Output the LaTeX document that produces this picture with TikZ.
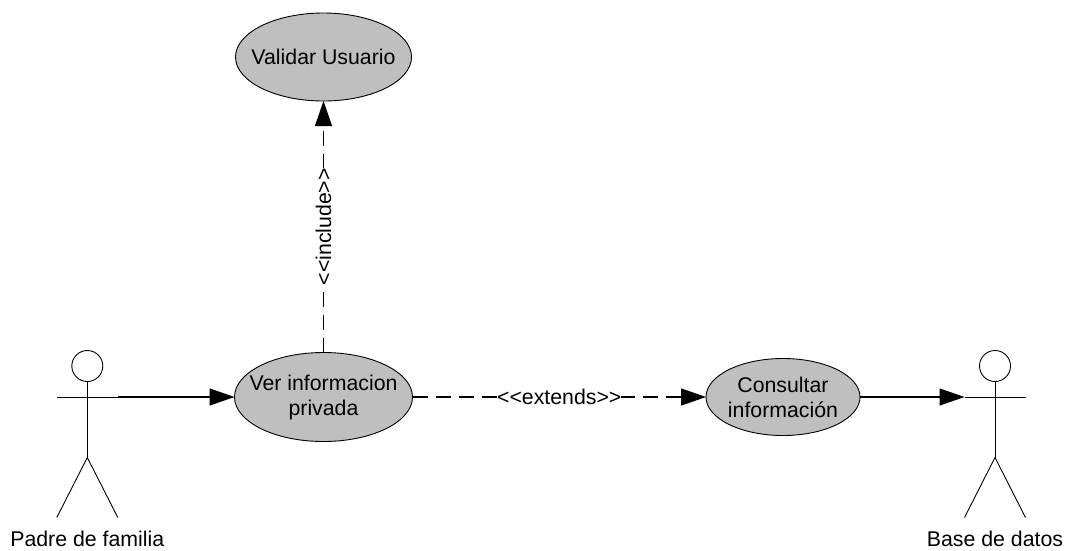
\documentclass[tikz,border=0pt]{standalone}
\usepackage{fontspec}
\setmainfont{Liberation Sans}
\usetikzlibrary{arrows.meta,positioning,shapes.geometric}

\begin{document}
\begin{tikzpicture}[x=1pt,y=-1pt,>={Triangle[length=25pt,width=17pt]},line width=0.9pt,
every node/.style={font=\fontsize{21.3}{25}\selectfont},
usecase/.style={ellipse, draw=black, fill=black!25, inner ysep=0pt, inner xsep=-14pt, outer sep=0pt, align=center},
headnode/.style={circle, draw=black, inner sep=0pt, outer sep=0pt, minimum size=31pt},
relation/.style={dash pattern=on 15pt off 8pt, line width=1.4pt},
tagnode/.style={fill=white, inner sep=0pt},
namenode/.style={inner sep=0pt},
]
\useasboundingbox (0,0) rectangle (1066,550);

\node[usecase, minimum width=178pt, minimum height=89pt](ver) at (323.5,397){Ver informacion\\privada};
\node[usecase, minimum width=176pt, minimum height=88pt](validar)[above=251.5pt of ver]{Validar Usuario};
\node[usecase, minimum width=154pt, minimum height=77pt](consultar)[right=293.5pt of ver]{Consultar\\información};

% Padre
\node[headnode](head1) at (87.3,366){};
\coordinate[below=15.5pt of head1.south](neck1);
\coordinate[left=30.5pt of neck1](arma1);
\coordinate[right=30.5pt of neck1](armb1);
\coordinate[below=76pt of head1.south](hip1);
\coordinate[below left=60pt and 30.5pt of hip1](lega1);
\coordinate[below right=60pt and 30.5pt of hip1](legb1);
\draw (head1.south) -- (hip1);
\draw (arma1) -- (armb1);
\draw (lega1) -- (hip1) -- (legb1);

% Base
\node[headnode](head2) at (995,366){};
\coordinate[below=15.5pt of head2.south](neck2);
\coordinate[left=30.5pt of neck2](arma2);
\coordinate[right=30.5pt of neck2](armb2);
\coordinate[below=76pt of head2.south](hip2);
\coordinate[below left=60pt and 30.5pt of hip2](lega2);
\coordinate[below right=60pt and 30.5pt of hip2](legb2);
\draw (head2.south) -- (hip2);
\draw (arma2) -- (armb2);
\draw (lega2) -- (hip2) -- (legb2);

\draw[->,line width=1.4pt] (armb1) -- (ver.west);
\draw[->,line width=1.4pt] (consultar.east) -- (arma2);
\draw[->,relation] (ver.north) -- node[tagnode, rotate=90]{<{}<include>{}>} (validar.south);
\draw[->,relation] (ver.east) -- node[tagnode]{<{}<extends>{}>} (consultar.west);

% Label
\node[namenode, below=13.5pt of lega1, xshift=30.5pt](labelpadre){Padre de familia};
\node[namenode, below=13.5pt of lega2, xshift=30.5pt](labelbase){Base de datos};

\end{tikzpicture}
\end{document}
